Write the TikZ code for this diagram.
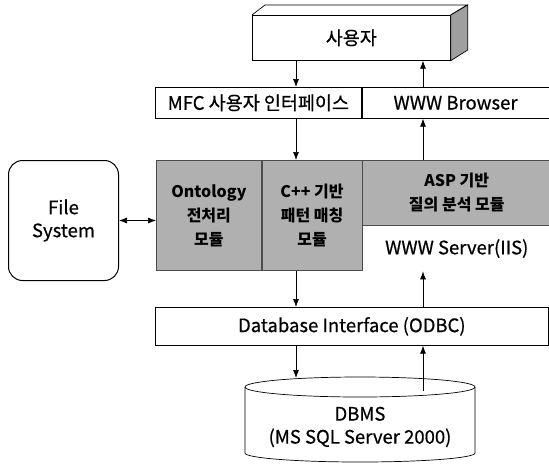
\documentclass[tikz,border=0pt]{standalone}
\usepackage{fontspec}
\setmainfont{Noto Sans CJK KR}
\newfontfamily\heavyfont{Noto Sans CJK KR}[FakeBold=0.6]
\usetikzlibrary{arrows.meta,calc}

\begin{document}
\begin{tikzpicture}[x=1pt, y=-1pt, font=\heavyfont\fontsize{18.5}{23}\selectfont, line width=0.7pt,
  every node/.style={inner sep=2pt},
  layer/.style={draw, anchor=north west, minimum height=31},
  module/.style={draw=black!70, anchor=north west, fill=gray!62, align=center,
    font=\fontsize{16}{24}\selectfont\bfseries},
  arr/.style={-{Latex[length=8pt,width=6pt]}}]
\useasboundingbox (0,0) rectangle (549,464);

% user block, drawn as a box
\node[draw, anchor=north west, minimum width=198, minimum height=45] (user) at (252,15) {사용자};
\draw (user.north west) -- ++(13,-10) -- ++(202,0) -- (user.north east);
\draw[fill=gray!75] (user.north east) -- ++(17,-10) -- ++(0,45) -- (user.south east) -- cycle;

% interface layer
\node[layer, minimum width=206] (mfc) at (155,87) {MFC 사용자 인터페이스};
\node[layer, minimum width=187] (browser) at (mfc.north east) {WWW Browser};

% modules
\node[module, minimum width=105, minimum height=110] (prep) at (156,160) {Ontology\\전처리\\모듈};
\node[module, minimum width=100, minimum height=110] (match) at (prep.north east) {C++ 기반\\패턴 매칭\\모듈};
\node[module, minimum width=188, minimum height=65] (asp) at (match.north east) {ASP 기반\\질의 분석 모듈};
\node[anchor=north west, minimum width=188, minimum height=45] (server) at (asp.south west) {WWW Server(IIS)};

\node[draw, line width=1pt, rounded corners=14, anchor=north west, align=center,
  minimum width=110, minimum height=120] (fs) at (8,160) {File\\System};

% database
\node[layer, minimum width=393, minimum height=38] (db) at (155,307) {Database Interface (ODBC)};
\node[align=center] (dbms) at (360,427) {DBMS\\(MS SQL Server 2000)};
\coordinate (dbtop) at ($(dbms.center)+(0,-40)$);
\coordinate (dbbot) at ($(dbms.center)+(0,26)$);
\draw ($(dbtop)+(-115,0)$) -- ($(dbbot)+(-115,0)$)
  arc[start angle=180, end angle=360, x radius=115pt, y radius=9pt] -- ($(dbtop)+(115,0)$);
\draw (dbtop) ellipse[x radius=115pt, y radius=10pt];

\coordinate (dn) at (296,0);
\coordinate (up) at (423,0);
\draw[arr] (dn |- user.south) -- (dn |- mfc.north);
\draw[arr] (up |- browser.north) -- (up |- user.south);
\draw[arr] (dn |- mfc.south) -- (dn |- match.north);
\draw[arr] (up |- asp.north) -- (up |- browser.south);
\draw[arr] (dn |- prep.south) -- (dn |- db.north);
\draw[arr] (up |- db.north) -- (up |- server.south);
\draw[arr] (dn |- db.south) -- ($(dn |- dbtop)+(0,-9)$);
\draw[arr] ($(up |- dbtop)+(0,4)$) -- (up |- db.south);
\draw[{Latex[length=8pt,width=6pt]}-{Latex[length=8pt,width=6pt]}] (fs.east) -- (fs.east -| prep.west);
\end{tikzpicture}
\end{document}
